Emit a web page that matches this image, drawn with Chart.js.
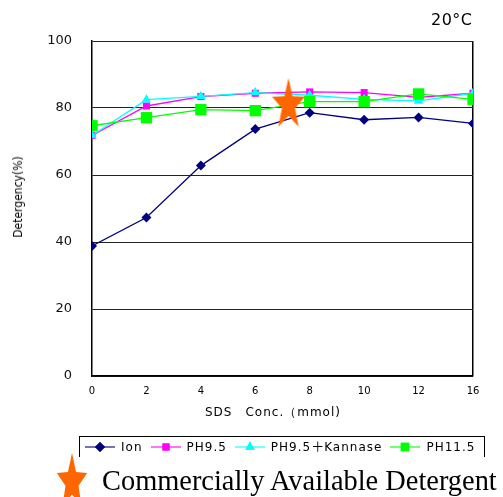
<!DOCTYPE html>
<html>
<head>
<meta charset="utf-8">
<script src="https://cdn.jsdelivr.net/npm/chart.js@4/dist/chart.umd.min.js"></script>
<style>
  body { margin: 0; background: #fff; overflow: hidden; }
  #wrap { position: relative; width: 503px; height: 497px; overflow: hidden; }
  #chart { position: absolute; left: 0; top: 0; }
  .txt { position: absolute; color: #000; white-space: nowrap; }
  #temp { left: 431px; top: 10px; font: 16px "DejaVu Sans", sans-serif; letter-spacing: 0.5px; }
  #ytitle { left: 18px; top: 197px; font: 12px "Liberation Sans Narrow", "DejaVu Sans Condensed", sans-serif;
            transform: translate(-50%, -50%) rotate(-90deg); }
  #xtitle { left: 205px; top: 404px; font: 12px "DejaVu Sans", sans-serif; letter-spacing: 1px; }
  #legend { position: absolute; left: 79px; top: 436px; width: 404px; height: 20px;
            border: 1px solid #000; border-bottom: none; display: flex; align-items: center;
            font: 12px/14px "DejaVu Sans", sans-serif; letter-spacing: 1px; }
  #legend .item { display: flex; align-items: center; margin-left: 5px; margin-right: 3px; }
  #legend canvas { margin-right: 6px; }
  .cjk { font-family: "Noto Sans CJK JP", sans-serif; font-size: 13px; line-height: 0; letter-spacing: 0; }
  #starNote { left: 57px; top: 453px; }
  #note { left: 102px; top: 465px; font: 28.4px "Liberation Serif", "DejaVu Serif", serif; }
</style>
</head>
<body>
<div id="wrap">
  <canvas id="chart" width="503" height="497"></canvas>
  <div class="txt" id="temp">20°C</div>
  <div class="txt" id="ytitle">Detergency(%)</div>
  <div class="txt" id="xtitle">SDS　Conc.（mmol)</div>
  <div id="legend"></div>
  <canvas class="txt" id="starNote" width="34" height="56"></canvas>
  <div class="txt" id="note">Commercially Available Detergent</div>
</div>
<script>
// SDS concentration (mmol) - note 14 is not on the chart
const concLabels = ['0', '2', '4', '6', '8', '10', '12', '16'];
const ionValues = [38.8, 47.3, 62.8, 73.7, 78.6, 76.5, 77.2, 75.4];
const ph95Values = [71.8, 80.6, 83.4, 84.4, 84.8, 84.6, 83.2, 84.4];
const kannaseValues = [71.8, 82.5, 83.5, 84.6, 83.8, 82.6, 82.1, 84.4];
const ph115Values = [74.7, 77.1, 79.5, 79.2, 81.9, 81.9, 84.2, 82.6];
const seriesNames = ['Ion', 'PH9.5', 'PH9.5＋Kannase', 'PH11.5'];
// commercially available detergent (x as position between categories)
const detergentPoint = [{ x: 3.61, y: 81.8 }];
const yTicks = [0, 20, 40, 60, 80, 100];

const seriesColors = ['#000080', '#ff00ff', '#00ffff', '#00ff00'];
const seriesPoints = ['rectRot', 'rect', 'triangle', 'rect'];
const seriesRadius = [5, 5, 5.5, 8];

function drawStar(ctx, cx, cy, r, sx, inner) {
    ctx.beginPath();
    for (let i = 0; i < 10; i++) {
        const rad = i % 2 === 0 ? r : r * inner;
        const a = -Math.PI / 2 + i * Math.PI / 5;
        const px = cx + Math.cos(a) * rad * sx;
        const py = cy + Math.sin(a) * rad;
        if (i === 0) ctx.moveTo(px, py); else ctx.lineTo(px, py);
    }
    ctx.closePath();
    ctx.fillStyle = '#ff6600';
    ctx.fill();
}

const starImg = document.createElement('canvas');
starImg.width = 34;
starImg.height = 50;
drawStar(starImg.getContext('2d'), 17, 28, 27, 0.64, 0.4);
drawStar(document.getElementById('starNote').getContext('2d'), 15, 29, 29, 0.55, 0.43);

const allValues = [ionValues, ph95Values, kannaseValues, ph115Values];
const datasets = allValues.map((vals, i) => ({
    label: seriesNames[i],
    data: vals.map((v, k) => ({ x: k, y: v })),
    borderColor: seriesColors[i],
    backgroundColor: seriesColors[i],
    borderWidth: 1.3,
    pointStyle: seriesPoints[i],
    pointRadius: seriesRadius[i],
    pointBorderWidth: 0,
    tension: 0,
    order: 4 - i
}));
datasets.push({
    label: 'Commercially Available Detergent',
    data: detergentPoint,
    pointStyle: starImg,
    showLine: false,
    order: -1
});

new Chart(document.getElementById('chart'), {
    type: 'line',
    data: { datasets: datasets },
    options: {
        responsive: false,
        animation: false,
        layout: { padding: { top: 41, right: 30, bottom: 0, left: 0 } },
        plugins: { legend: { display: false }, tooltip: { enabled: false } },
        scales: {
            x: {
                type: 'linear',
                min: 0,
                max: concLabels.length - 1,
                afterFit: s => { s.height = 121; },
                ticks: {
                    stepSize: 1,
                    padding: 9,
                    color: '#000',
                    font: { family: 'DejaVu Sans', size: 10 },
                    callback: v => concLabels[v]
                },
                grid: {
                    drawTicks: false,
                    color: c => c.index === concLabels.length - 1 ? '#000' : 'rgba(0,0,0,0)',
                    lineWidth: 1.5
                },
                border: { color: '#000', width: 1.5 }
            },
            y: {
                min: 0,
                max: 100,
                afterFit: s => { s.width = 92; },
                afterBuildTicks: s => { s.ticks = yTicks.map(v => ({ value: v })); },
                ticks: {
                    padding: 20,
                    color: '#111',
                    font: { family: 'DejaVu Sans', size: 13 }
                },
                grid: { drawTicks: false, color: '#222', lineWidth: 1 },
                border: { color: '#000', width: 1.5 }
            }
        }
    }
});

// legend: line sample + marker, then the name
const legend = document.getElementById('legend');
seriesNames.forEach((name, i) => {
    const item = document.createElement('div');
    item.className = 'item';
    const c = document.createElement('canvas');
    c.width = 30;
    c.height = 12;
    const ctx = c.getContext('2d');
    ctx.globalAlpha = 0.55;
    ctx.strokeStyle = seriesColors[i];
    ctx.lineWidth = 2;
    ctx.beginPath();
    ctx.moveTo(0, 6);
    ctx.lineTo(30, 6);
    ctx.stroke();
    ctx.globalAlpha = 1;
    ctx.fillStyle = seriesColors[i];
    Chart.helpers.drawPoint(ctx, { pointStyle: seriesPoints[i], radius: Math.min(seriesRadius[i], 6), borderWidth: 0 }, 15, 6);
    ctx.fill();
    item.appendChild(c);
    const t = document.createElement('span');
    name.split('＋').forEach((part, k) => {
        if (k > 0) {
            const p = document.createElement('span');
            p.className = 'cjk';
            p.textContent = '＋';
            t.appendChild(p);
        }
        t.appendChild(document.createTextNode(part));
    });
    item.appendChild(t);
    legend.appendChild(item);
});
</script>
</body>
</html>
